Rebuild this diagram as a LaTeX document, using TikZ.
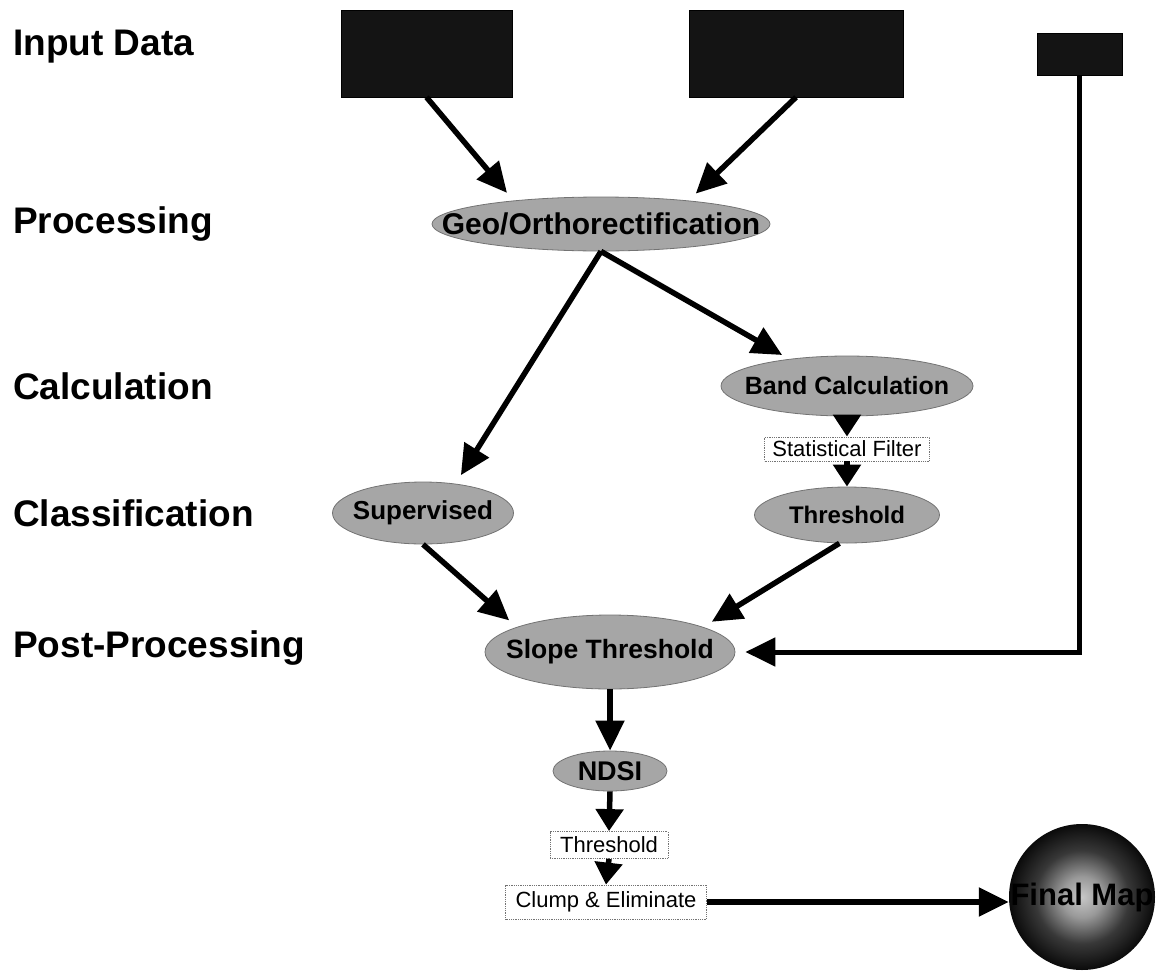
\documentclass[tikz,border=0pt]{standalone}
\usepackage{fontspec}
\setmainfont{Liberation Sans}
\usetikzlibrary{arrows.meta,shapes.geometric}

% lit sphere: small light core fading quickly to black at the rim
\pgfdeclareradialshading{litsphere}{\pgfpoint{0bp}{0bp}}{%
  color(0bp)=(black!22); color(7bp)=(black!40); color(16bp)=(black!78);
  color(25bp)=(black!96); color(50bp)=(black)}

\begin{document}
\begin{tikzpicture}[x=1pt,y=-1pt,
  stagelabel/.style={anchor=west,inner sep=0pt,font=\bfseries\fontsize{37}{40}\selectfont},
  databox/.style={draw=black,fill=black!92,inner sep=0pt},
  proc/.style={ellipse,draw=black!55,line width=0.8pt,fill=black!35,inner sep=-100pt},
  filterbox/.style={draw=black!55,densely dotted,line width=0.8pt,fill=white,inner sep=0pt,
    font=\fontsize{22}{24}\selectfont},
  flow/.style={line width=5.5pt,-{Triangle[width=28pt,length=30pt]}},
  shortflow/.style={line width=5.5pt,-{Triangle[width=27pt,length=22pt]}},
]
\useasboundingbox (0,0) rectangle (1157,972);

% stage labels down the left side
\node[stagelabel] (lInput) at (13,47)  {Input Data};
\node[stagelabel] (lProc)  at (13,224) {Processing};
\node[stagelabel] (lCalc)  at (13,386) {Calculation};
\node[stagelabel] (lClass) at (13,513) {Classification};
\node[stagelabel] (lPost)  at (13,648) {Post-Processing};

% input imagery
\node[databox,minimum width=171pt,minimum height=87pt] (img1) at (426.5,53.5) {};
\node[databox,minimum width=214pt,minimum height=87pt] (img2) at (796,53.5) {};
\node[databox,minimum width=85pt,minimum height=42pt] (img3) at (1079.5,54) {};

% processing steps
\node[proc,minimum width=338pt,minimum height=54pt,font=\bfseries\fontsize{30}{32}\selectfont]
  (geo) at (601,224) {Geo/Orthorectification};
\node[proc,minimum width=252pt,minimum height=60pt,font=\bfseries\fontsize{25}{27}\selectfont]
  (band) at (847,386) {Band Calculation};
\node[filterbox,minimum width=165pt,minimum height=24pt] (stat) at (847,449) {Statistical Filter};
\node[proc,minimum width=185pt,minimum height=56pt,font=\bfseries\fontsize{24}{26}\selectfont]
  (thr) at (847,515) {Threshold};
\node[proc,minimum width=181pt,minimum height=62pt,font=\bfseries\fontsize{26}{28}\selectfont]
  (sup) at (423,513) {Supervised};
\node[proc,minimum width=250pt,minimum height=74pt,font=\bfseries\fontsize{26.5}{28}\selectfont]
  (slope) at (610,652) {Slope Threshold};
\node[proc,minimum width=114pt,minimum height=40pt,font=\bfseries\fontsize{27}{29}\selectfont]
  (ndsi) at (610,771) {NDSI};
\node[filterbox,minimum width=118pt,minimum height=27pt] (thrbox) at (609,845) {Threshold};
\node[filterbox,minimum width=201pt,minimum height=34pt] (clump) at (606,902) {Clump \& Eliminate};

% final product
\node[circle,minimum size=146pt,inner sep=0pt,shading=litsphere,
  font=\bfseries\fontsize{31}{33}\selectfont] (final) at (1082,897) {Final Map};

% connectors
\draw[flow,shorten >=10pt] (img1.south) -- (geo.165);
\draw[flow,shorten >=10pt] (img2.south) -- (geo.15);
\draw[flow,shorten >=8pt] (geo.south) -- (band.155);
\draw[flow,shorten >=10pt] (geo.south) -- (sup.42);
\draw[shortflow] (band.south) -- (stat.north);
\draw[shortflow] (stat.south) -- (thr.north);
\draw[flow,shorten >=10pt] (sup.south) -- (slope.165);
\draw[flow,shorten >=10pt] (thr.-105) -- (slope.15);
\draw[flow,line width=5pt,shorten >=10pt] (img3.south) |- (slope.east);
\draw[flow] (slope.south) -- (ndsi.north);
\draw[shortflow] (ndsi.south) -- (thrbox.north);
\draw[shortflow] (thrbox.south) -- (clump.north);
\draw[flow] (clump.east) -- (clump.east -| final.west);
\end{tikzpicture}
\end{document}
